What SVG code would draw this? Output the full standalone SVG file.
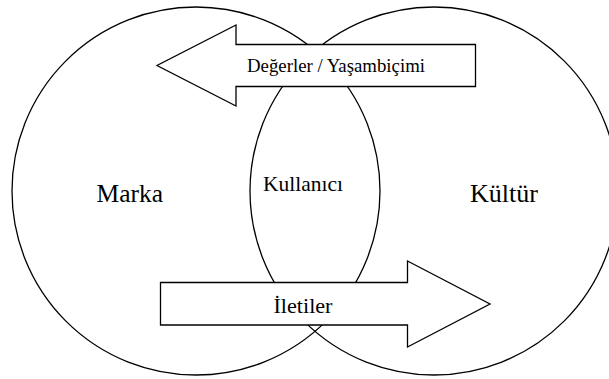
<svg xmlns="http://www.w3.org/2000/svg" width="609" height="379" viewBox="0 0 609 379">
<style>
.ln{fill:none;stroke:#000;stroke-width:1.3}
.blk{fill:#fff;stroke:#000;stroke-width:1.3;stroke-linejoin:miter}
.t{font-family:"Liberation Serif","Times New Roman",serif;fill:#000}
</style>
<rect width="609" height="379" fill="#fff"/>
<g id="marka">
<circle class="ln" cx="196" cy="191" r="184"/>
<text class="t" x="96.5" y="201.5" font-size="25" textLength="66.5" lengthAdjust="spacingAndGlyphs">Marka</text>
</g>
<g id="kultur">
<circle class="ln" cx="434" cy="191" r="184"/>
<text class="t" x="470" y="201.5" font-size="25" textLength="68" lengthAdjust="spacingAndGlyphs">Kültür</text>
</g>
<g id="kullanici">
<text class="t" x="263" y="190.5" font-size="21" textLength="80" lengthAdjust="spacingAndGlyphs">Kullanıcı</text>
</g>
<g id="connectors">
<g id="degerler">
<polygon class="blk" points="475.5,44.5 236,44.5 236,25 157,65.5 236,106 236,86.5 475.5,86.5"/>
<text class="t" x="247" y="71.5" font-size="18.5" textLength="178" lengthAdjust="spacingAndGlyphs">Değerler / Yaşambiçimi</text>
</g>
<g id="iletiler">
<polygon class="blk" points="160.5,282.5 407.5,282.5 407.5,261 490,304 407.5,347 407.5,325 160.5,325"/>
<text class="t" x="273.5" y="312.5" font-size="22" textLength="59" lengthAdjust="spacingAndGlyphs">İletiler</text>
</g>
</g>
</svg>
